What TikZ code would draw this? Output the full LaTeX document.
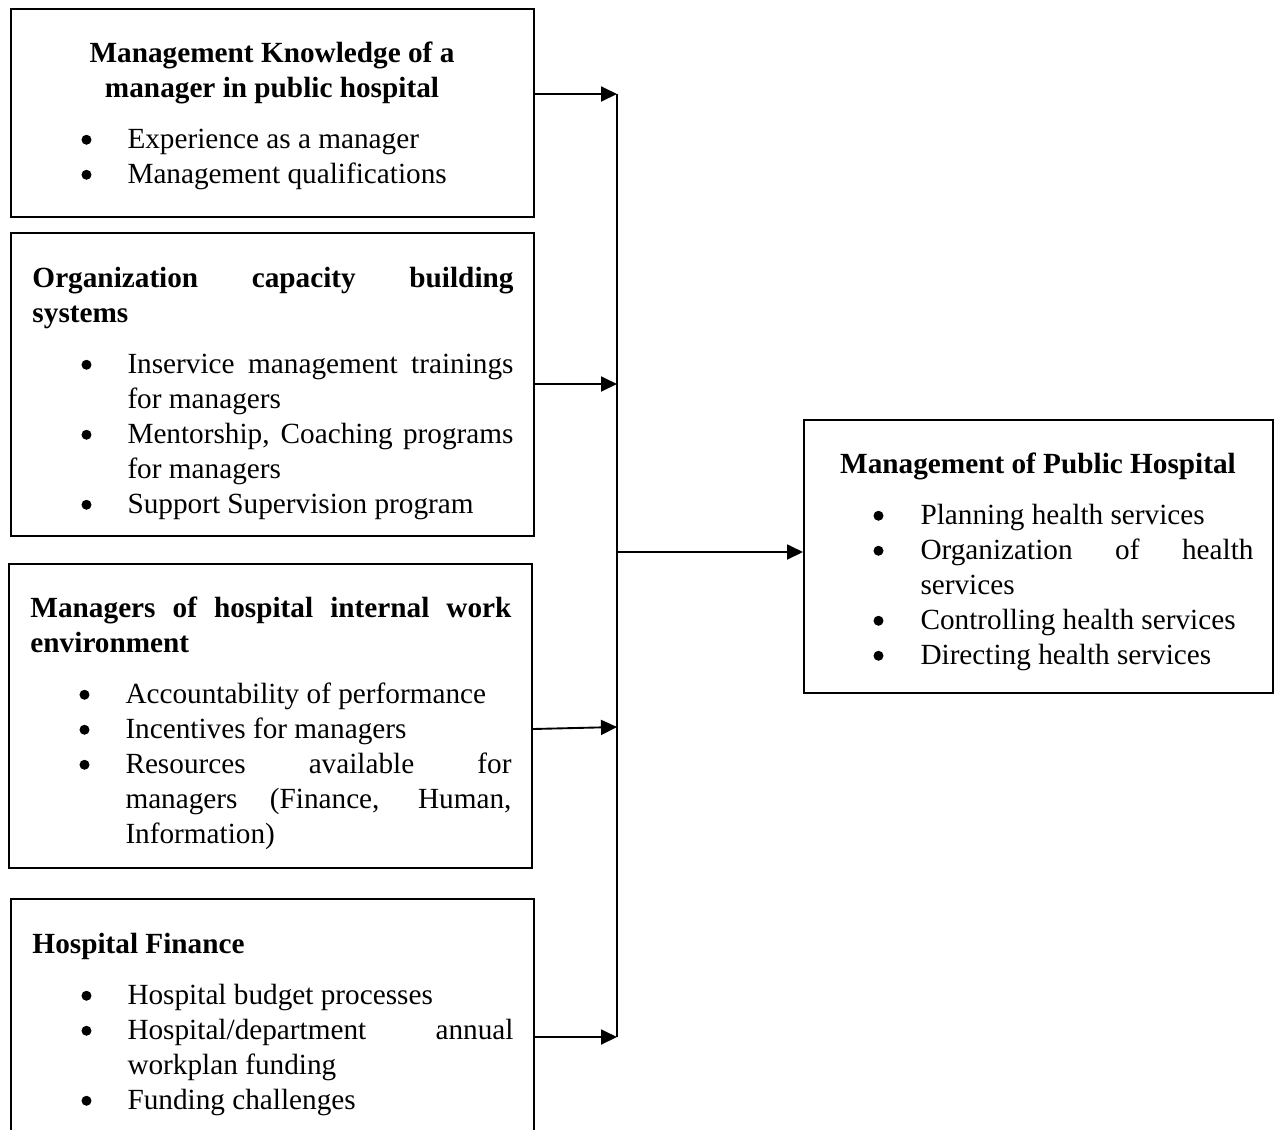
\documentclass[tikz,border=0pt]{standalone}
\usepackage{fontspec}
\setmainfont{Liberation Serif}
\usetikzlibrary{arrows.meta}

% no hyphenation, always justify without complaint
\tolerance=10000
\hyphenpenalty=10000
\hbadness=10000

\newlength\bulind
\newlength\bulgap
% round list marker, a little larger than the text bullet
\newcommand\bulletmark{\tikz[baseline=0pt]\fill (0pt,3.3pt) circle[radius=2pt];}
% one bulleted entry with a hanging indent
\newcommand\bul[1]{\par{\leftskip=\bulind\noindent\llap{\bulletmark\hspace{\bulgap}}#1\par}}
% bold heading followed by a small gap
\newcommand\hdr[1]{{\bfseries #1\par}\vspace{6.4pt}}
\newcommand\chdr[1]{{\centering\bfseries #1\par}\vspace{6.4pt}}

\begin{document}
\begin{tikzpicture}[x=0.4pt,y=-0.4pt,
  box/.style={draw, line width=0.8pt, inner sep=0pt, anchor=north west},
  txt/.style={inner sep=0pt, anchor=base west, text width=192.4pt, align=justify,
    font=\fontsize{11.7}{14}\selectfont,
    execute at begin node={\setlength\bulind{38pt}\setlength\bulgap{14.4pt}}},
  conn/.style={line width=0.75pt, -{Triangle[length=6.4pt,width=6pt]}},
  bus/.style={line width=0.7pt}]
\useasboundingbox (0,0) rectangle (1275,1129);
\clip (0,0) rectangle (1275,1129);

% input boxes on the left
\node[box, minimum width=209.2pt, minimum height=83.2pt]  (b1) at (10,8) {};
\node[box, minimum width=209.2pt, minimum height=121.2pt] (b2) at (10,232) {};
\node[box, minimum width=209.2pt, minimum height=121.6pt] (b3) at (8,563) {};
\node[box, minimum width=209.2pt, minimum height=104pt]   (b4) at (10,898) {};
% outcome box on the right
\node[box, minimum width=187.6pt, minimum height=109.2pt] (bR) at (803,419) {};

\node[txt, text width=191.6pt] (t1) at (32,62) {%
  \chdr{Management Knowledge of a\\ manager in public hospital}%
  \bul{Experience as a manager}%
  \bul{Management qualifications}};

\node[txt] (t2) at (32,287) {%
  \hdr{Organization capacity building\linebreak systems}%
  \bul{Inservice management trainings\linebreak for managers}%
  \bul{Mentorship, Coaching programs\linebreak for managers}%
  \bul{Support Supervision program}};

\node[txt] (t3) at (30,617) {%
  \hdr{Managers of hospital internal work\linebreak environment}%
  \bul{Accountability of performance}%
  \bul{Incentives for managers}%
  \bul{Resources available for\linebreak managers (Finance, Human,\linebreak Information)}};

\node[txt] (t4) at (32,953) {%
  \hdr{Hospital Finance}%
  \bul{Hospital budget processes}%
  \bul{Hospital/department annual\linebreak workplan funding}%
  \bul{Funding challenges}};

\node[txt, text width=172.4pt,
  execute at begin node={\setlength\bulind{39.2pt}\setlength\bulgap{14.8pt}}] (tR) at (822,473) {%
  \chdr{Management of Public Hospital}%
  \bul{Planning health services}%
  \bul{Organization of health\linebreak services}%
  \bul{Controlling health services}%
  \bul{Directing health services}};

% junction points on the collecting line
\coordinate (j1) at (617,94);
\coordinate (j2) at (617,384);
\coordinate (j3) at (617,727);
\coordinate (j4) at (617,1037);
\coordinate (jm) at (617,552);
\coordinate (e3) at (0,729);

\draw[bus] (j1) -- (j4);
\draw[conn] (b1.east |- j1) -- (j1);
\draw[conn] (b2.east |- j2) -- (j2);
\draw[conn] (b3.east |- e3) -- (j3);
\draw[conn] (b4.east |- j4) -- (j4);
\draw[conn] (jm) -- (bR.west |- jm);
\end{tikzpicture}
\end{document}
